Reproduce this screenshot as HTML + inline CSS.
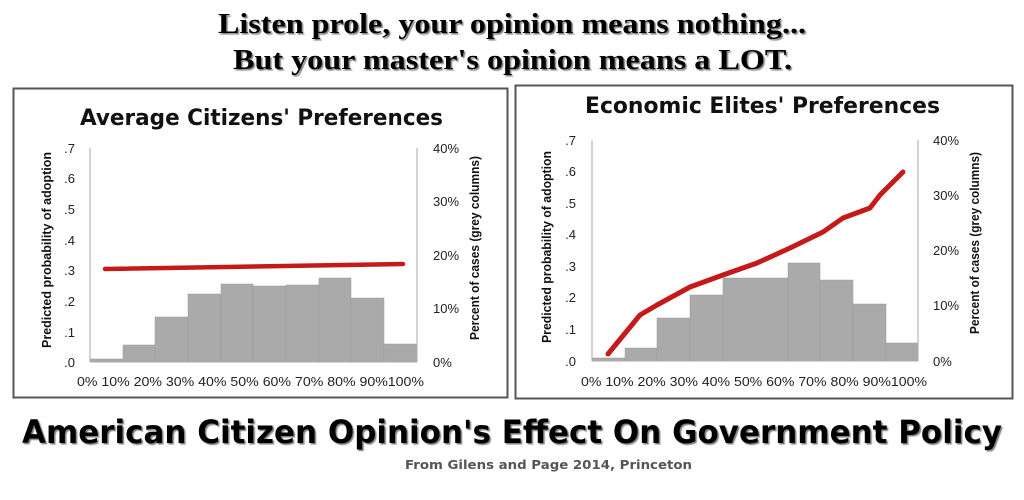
<!DOCTYPE html>
<html><head><meta charset="utf-8"><style>
html,body{margin:0;padding:0;background:#fff;width:1024px;height:500px;overflow:hidden}
svg{display:block}
</style></head><body>
<svg width="1024" height="500" viewBox="0 0 1024 500" xmlns="http://www.w3.org/2000/svg">
<defs>
<filter id="sh" x="-5%" y="-20%" width="110%" height="140%"><feDropShadow dx="1.5" dy="1.5" stdDeviation="0.6" flood-color="#444" flood-opacity="0.7"/></filter>
</defs>
<rect width="1024" height="500" fill="#fff"/>
<!-- top titles -->
<g font-family="Liberation Serif, serif" font-weight="bold" font-size="28" fill="#000" filter="url(#sh)">
<text x="218" y="33" textLength="588" lengthAdjust="spacingAndGlyphs">Listen prole, your opinion means nothing...</text>
<text x="233" y="69" textLength="559" lengthAdjust="spacingAndGlyphs">But your master's opinion means a LOT.</text>
</g>

<!-- LEFT PANEL -->
<rect x="13.5" y="88.5" width="494" height="309" fill="#fff" stroke="#555" stroke-width="2"/>
<text x="80" y="125" font-family="DejaVu Sans, sans-serif" font-weight="bold" font-size="22" fill="#111" textLength="363" lengthAdjust="spacingAndGlyphs">Average Citizens' Preferences</text>
<g fill="#aaa" stroke="#999" stroke-width="0.5">
<rect x="90" y="359" width="33" height="3"/>
<rect x="123" y="345" width="32" height="17"/>
<rect x="155" y="317" width="33" height="45"/>
<rect x="188" y="294" width="33" height="68"/>
<rect x="221" y="284" width="32" height="78"/>
<rect x="253" y="286" width="33" height="76"/>
<rect x="286" y="285" width="33" height="77"/>
<rect x="319" y="278" width="32" height="84"/>
<rect x="351" y="298" width="33" height="64"/>
<rect x="384" y="344" width="33" height="18"/>
</g>
<g stroke="#aaa" stroke-width="1">
<line x1="90" y1="148" x2="90" y2="362"/><line x1="417" y1="148" x2="417" y2="362"/>
<line x1="90" y1="362" x2="417" y2="362"/>
</g>
<line x1="105" y1="269" x2="403" y2="264" stroke="#c41a1a" stroke-width="4.5" stroke-linecap="round"/>
<g font-family="Liberation Sans, sans-serif" font-size="13" fill="#222" text-anchor="end">
<text x="75" y="153">.7</text><text x="75" y="183">.6</text><text x="75" y="214">.5</text><text x="75" y="245">.4</text><text x="75" y="275">.3</text><text x="75" y="306">.2</text><text x="75" y="337">.1</text><text x="75" y="367">.0</text>
</g>
<g font-family="Liberation Sans, sans-serif" font-size="13" fill="#222">
<text x="433" y="153">40%</text><text x="433" y="206">30%</text><text x="433" y="260">20%</text><text x="433" y="313">10%</text><text x="433" y="367">0%</text>
</g>
<text transform="translate(51,250) rotate(-90)" text-anchor="middle" font-family="Liberation Sans, sans-serif" font-weight="bold" font-size="12.5" fill="#111" textLength="196" lengthAdjust="spacingAndGlyphs">Predicted probability of adoption</text>
<text transform="translate(479,248) rotate(-90)" text-anchor="middle" font-family="Liberation Sans, sans-serif" font-weight="bold" font-size="12.5" fill="#111" textLength="184" lengthAdjust="spacingAndGlyphs">Percent of cases (grey columns)</text>
<text x="77" y="386" font-family="Liberation Sans, sans-serif" font-size="13" fill="#222" textLength="347" lengthAdjust="spacingAndGlyphs">0%  10% 20% 30% 40% 50% 60% 70% 80% 90%100%</text>

<!-- RIGHT PANEL -->
<rect x="515.5" y="85.5" width="497" height="313" fill="#fff" stroke="#555" stroke-width="2"/>
<text x="585" y="113" font-family="DejaVu Sans, sans-serif" font-weight="bold" font-size="22" fill="#111" textLength="355" lengthAdjust="spacingAndGlyphs">Economic Elites' Preferences</text>
<g fill="#aaa" stroke="#999" stroke-width="0.5">
<rect x="592" y="358" width="33" height="3"/>
<rect x="625" y="348" width="32" height="13"/>
<rect x="657" y="318" width="33" height="43"/>
<rect x="690" y="295" width="33" height="66"/>
<rect x="723" y="278" width="65" height="83"/>
<rect x="788" y="263" width="32" height="98"/>
<rect x="820" y="280" width="33" height="81"/>
<rect x="853" y="304" width="33" height="57"/>
<rect x="886" y="343" width="32" height="18"/>
</g>
<g stroke="#aaa" stroke-width="1">
<line x1="592" y1="140" x2="592" y2="361"/><line x1="918" y1="140" x2="918" y2="361"/>
<line x1="592" y1="361" x2="918" y2="361"/>
</g>
<polyline points="608,354 640,315 657,305 690,287 723,275 757,263 790,248 823,232 843,218 870,208 880,195 903,172" fill="none" stroke="#c41a1a" stroke-width="5" stroke-linecap="round" stroke-linejoin="round"/>
<g font-family="Liberation Sans, sans-serif" font-size="13" fill="#222" text-anchor="end">
<text x="576" y="145">.7</text><text x="576" y="176">.6</text><text x="576" y="208">.5</text><text x="576" y="239">.4</text><text x="576" y="271">.3</text><text x="576" y="302">.2</text><text x="576" y="334">.1</text><text x="576" y="366">.0</text>
</g>
<g font-family="Liberation Sans, sans-serif" font-size="13" fill="#222">
<text x="933" y="145">40%</text><text x="933" y="200">30%</text><text x="933" y="255">20%</text><text x="933" y="310">10%</text><text x="933" y="366">0%</text>
</g>
<text transform="translate(551,247) rotate(-90)" text-anchor="middle" font-family="Liberation Sans, sans-serif" font-weight="bold" font-size="12.5" fill="#111" textLength="192" lengthAdjust="spacingAndGlyphs">Predicted probability of adoption</text>
<text transform="translate(979,243) rotate(-90)" text-anchor="middle" font-family="Liberation Sans, sans-serif" font-weight="bold" font-size="12.5" fill="#111" textLength="182" lengthAdjust="spacingAndGlyphs">Percent of cases (grey columns)</text>
<text x="581" y="386" font-family="Liberation Sans, sans-serif" font-size="13" fill="#222" textLength="346" lengthAdjust="spacingAndGlyphs">0%  10% 20% 30% 40% 50% 60% 70% 80% 90%100%</text>

<!-- bottom -->
<text x="22" y="443" font-family="DejaVu Sans, sans-serif" font-weight="bold" font-size="32" fill="#000" filter="url(#sh)" textLength="980" lengthAdjust="spacingAndGlyphs">American Citizen Opinion's Effect On Government Policy</text>
<text x="405" y="469" font-family="DejaVu Sans, sans-serif" font-weight="bold" font-size="12" fill="#555" textLength="287" lengthAdjust="spacingAndGlyphs">From Gilens and Page 2014, Princeton</text>
</svg>
</body></html>
